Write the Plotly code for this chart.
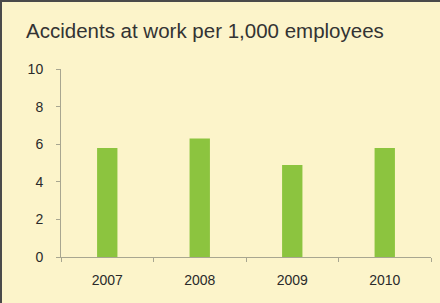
import plotly.graph_objects as go

years = ["2007", "2008", "2009", "2010"]
accidents = [5.8, 6.3, 4.9, 5.8]
y_ticks = [0, 2, 4, 6, 8, 10]
title_text = "Accidents at work per 1,000 employees"

bg = "#FCF4CA"
axis_col = "#A8A690"
txt = "#2A2A2A"

fig = go.Figure(go.Bar(x=years, y=accidents, marker=dict(color="#8CC43F", line=dict(width=0)),
                       hoverinfo="skip"))

W, H = 440, 303
ml, mr, mt, mb = 61, 9, 69, 46
pw, ph = W - ml - mr, H - mt - mb

def px_x(p):
    return (p - ml) / pw

def px_y(p):
    return (H - mb - p) / ph

fig.update_layout(
    width=W, height=H,
    margin=dict(l=ml, r=mr, t=mt, b=mb, autoexpand=False),
    paper_bgcolor=bg, plot_bgcolor=bg,
    bargap=0.78,
    showlegend=False,
    font=dict(family="Liberation Sans, Arial, sans-serif", size=14, color=txt),
    xaxis=dict(
        showgrid=False, zeroline=False, showline=True, linecolor=axis_col, linewidth=1,
        ticks="outside", tickson="boundaries", ticklen=4, tickcolor=axis_col,
        tickfont=dict(size=14, color=txt), ticklabelstandoff=10,
    ),
    yaxis=dict(
        range=[0, 10], tickvals=y_ticks, showgrid=False, zeroline=False,
        showline=True, linecolor=axis_col, linewidth=1,
        ticks="outside", ticklen=4, tickcolor=axis_col,
        tickfont=dict(size=14, color=txt), ticklabelstandoff=10,
    ),
    shapes=[
        dict(type="line", xref="paper", yref="paper", x0=px_x(0), x1=px_x(W), y0=px_y(1), y1=px_y(1),
             line=dict(color="#4A4A4A", width=2)),
        dict(type="line", xref="paper", yref="paper", x0=px_x(1), x1=px_x(1), y0=px_y(0), y1=px_y(H),
             line=dict(color="#4A4A4A", width=2)),
    ],
    annotations=[
        dict(text=title_text, xref="paper", yref="paper", x=px_x(24), y=px_y(30),
             xanchor="left", yanchor="middle", showarrow=False,
             font=dict(size=20.5, color="#333333", family="Liberation Sans, Arial, sans-serif")),
    ],
)

fig.write_html("out.html", config={"displayModeBar": False, "staticPlot": True},
               post_script="document.body.style.margin='0';document.body.style.overflow='hidden';")
